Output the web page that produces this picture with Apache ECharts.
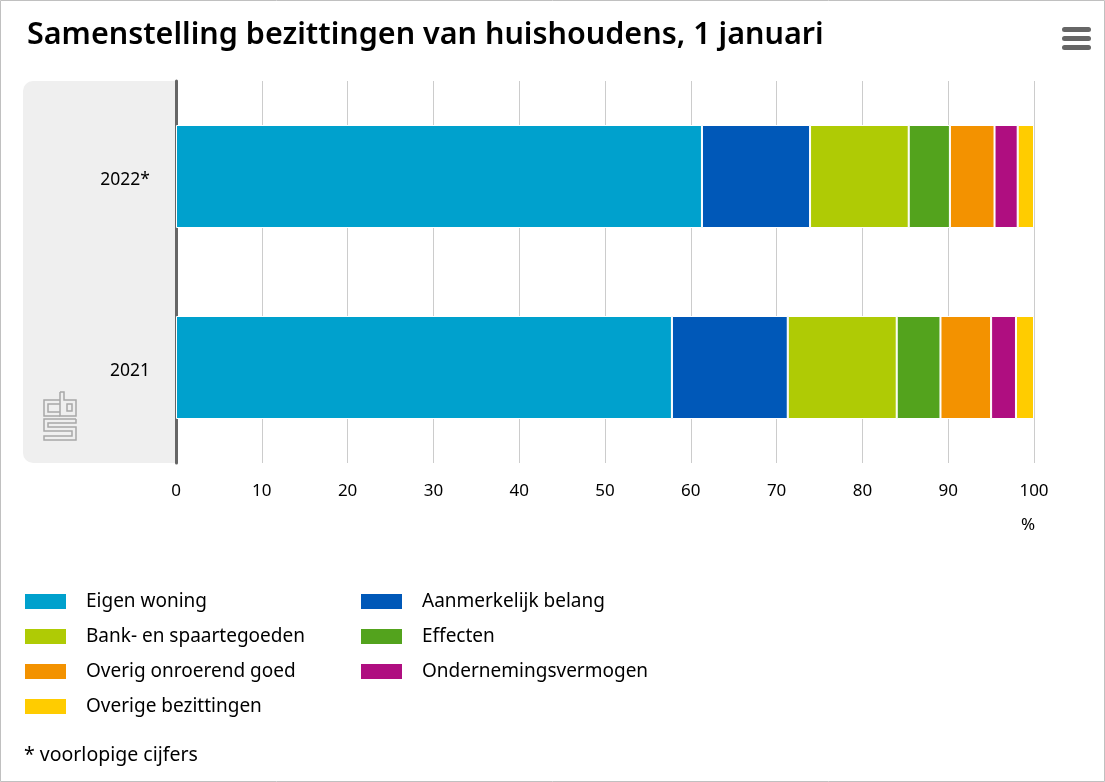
<!DOCTYPE html>
<html>
<head>
<meta charset="utf-8">
<script src="https://cdn.jsdelivr.net/npm/echarts@6/dist/echarts.min.js"></script>
<style>
html,body{margin:0;padding:0;background:#fff;}
#c{width:1105px;height:782px;}
</style>
</head>
<body>
<div id="c"></div>
<script>
const categories = ['2021', '2022*'];
const seriesNames = ['Eigen woning', 'Aanmerkelijk belang', 'Bank- en spaartegoeden', 'Effecten', 'Overig onroerend goed', 'Ondernemingsvermogen', 'Overige bezittingen'];
const eigenWoning = [57.8, 61.3];
const aanmerkelijkBelang = [13.5, 12.6];
const bankSpaar = [12.7, 11.5];
const effecten = [5.1, 4.8];
const overigOnroerend = [5.9, 5.2];
const ondernemingsvermogen = [2.9, 2.7];
const overigeBezittingen = [2.1, 1.9];
const colors = ['#00a1cd', '#0058b8', '#afcb05', '#53a31d', '#f39200', '#af0e80', '#ffcc00'];
const xTicks = [0, 10, 20, 30, 40, 50, 60, 70, 80, 90, 100];

const values = [eigenWoning, aanmerkelijkBelang, bankSpaar, effecten, overigOnroerend, ondernemingsvermogen, overigeBezittingen];
const FONT = '"Noto Sans", sans-serif';

const chart = echarts.init(document.getElementById('c'));
const series = seriesNames.map((n, i) => ({
  name: n,
  type: 'bar',
  stack: 'total',
  barWidth: 103,
  data: values[i],
  itemStyle: { color: colors[i], borderColor: '#fff', borderWidth: 1 },
  emphasis: { disabled: true }
}));

const legendCommon = {
  orient: 'vertical',
  icon: 'rect',
  itemWidth: 43,
  itemHeight: 17,
  itemGap: 16,
  padding: 0,
  selectedMode: false,
  textStyle: { fontFamily: FONT, fontSize: 19, lineHeight: 17, color: '#000', padding: [0, 0, 0, 14] }
};

chart.setOption({
  animation: false,
  backgroundColor: '#fff',
  title: {
    text: 'Samenstelling bezittingen van huishoudens, 1 januari',
    left: 22, top: 15,
    textStyle: { fontFamily: FONT, fontSize: 30.5, fontWeight: 600, color: '#000' }
  },
  grid: { left: 176, right: 71, top: 81, bottom: 319 },
  xAxis: {
    type: 'value', min: 0, max: 100, interval: 10,
    axisLine: { show: false }, axisTick: { show: false },
    splitLine: { show: true, lineStyle: { color: '#cccccc', width: 1 } },
    axisLabel: { fontFamily: FONT, fontSize: 17, color: '#000', margin: 20,
      formatter: v => xTicks.includes(v) ? String(v) : '' }
  },
  yAxis: {
    type: 'category', data: categories,
    axisLine: { show: true, lineStyle: { color: '#666', width: 3 } },
    axisTick: { show: false },
    axisLabel: { margin: 26, formatter: v => '{a|' + v + '}',
      rich: { a: { fontFamily: FONT, fontSize: 17.5, color: '#000', padding: [8, 0, 0, 0] } } }
  },
  legend: [
    Object.assign({}, legendCommon, { left: 23, top: 592, data: [seriesNames[0], seriesNames[2], seriesNames[4], seriesNames[6]] }),
    Object.assign({}, legendCommon, { left: 359, top: 592, data: [seriesNames[1], seriesNames[3], seriesNames[5]] })
  ],
  graphic: [
    { type: 'rect', z: -10, shape: { x: 0.5, y: 0.5, width: 1104, height: 781 }, style: { fill: 'none', stroke: '#c0c0c0', lineWidth: 1 } },
    { type: 'rect', z: -5, shape: { x: 23, y: 81, width: 152, height: 382, r: [10, 0, 0, 10] }, style: { fill: '#efefef' } },
    { type: 'text', left: 1021, top: 517, style: { text: '%', fontFamily: FONT, fontSize: 17, fill: '#000' } },
    { type: 'text', left: 24, top: 745, style: { text: '* voorlopige cijfers', fontFamily: FONT, fontSize: 19.5, fill: '#000' } },
    { type: 'rect', shape: { x: 1062, y: 27, width: 29, height: 5, r: 2.5 }, style: { fill: '#666' } },
    { type: 'rect', shape: { x: 1062, y: 36, width: 29, height: 5, r: 2.5 }, style: { fill: '#666' } },
    { type: 'rect', shape: { x: 1062, y: 45, width: 29, height: 5, r: 2.5 }, style: { fill: '#666' } },
    // CBS logo (outlined)
    { type: 'group', children: [
      { type: 'polyline', shape: { points: [[60, 400], [44, 400], [44, 416], [60, 416]] }, style: { fill: 'none', stroke: '#a8a8a8', lineWidth: 1.5 } },
      { type: 'polyline', shape: { points: [[60, 404], [48, 404], [48, 412], [60, 412]] }, style: { fill: 'none', stroke: '#a8a8a8', lineWidth: 1.5 } },
      { type: 'polyline', shape: { points: [[60, 392], [64, 392], [64, 400], [76, 400], [76, 416], [60, 416], [60, 392]] }, style: { fill: 'none', stroke: '#a8a8a8', lineWidth: 1.5 } },
      { type: 'rect', shape: { x: 67, y: 404, width: 5, height: 7 }, style: { fill: 'none', stroke: '#a8a8a8', lineWidth: 1.5 } },
      { type: 'polyline', shape: { points: [[76, 419], [44, 419], [44, 431], [72, 431], [72, 436], [44, 436], [44, 440], [76, 440], [76, 427], [48, 427], [48, 423], [76, 423], [76, 419]] }, style: { fill: 'none', stroke: '#a8a8a8', lineWidth: 1.5 } }
    ]}
  ],
  series: series
});
</script>
</body>
</html>
